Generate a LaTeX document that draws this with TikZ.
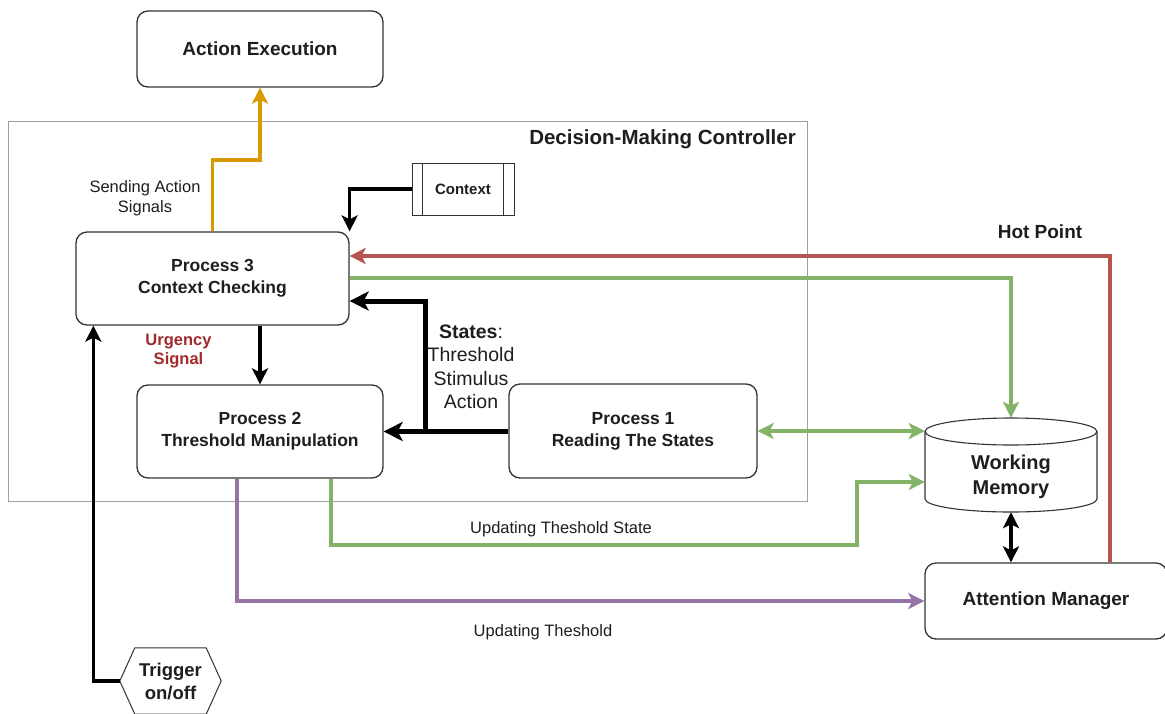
\documentclass[tikz,border=0pt]{standalone}
\usepackage{fontspec}
\setmainfont{Liberation Sans}
\usetikzlibrary{arrows.meta,calc}

\definecolor{lineorange}{HTML}{D79B00}
\definecolor{linered}{HTML}{B85450}
\definecolor{linegreen}{HTML}{82B366}
\definecolor{linepurple}{HTML}{9673A6}
\definecolor{urgency}{HTML}{A02A2C}
\definecolor{ink}{HTML}{1E1E1E}
\definecolor{frame}{HTML}{333333}

\newcommand\setfs[2]{\fontsize{#1}{#2}\selectfont}

\tikzset{
  tip/.style={-{Stealth[length=16pt,width=16pt,inset=4pt]}},
  bitip/.style={{Stealth[length=16pt,width=16pt,inset=4pt]}-{Stealth[length=16pt,width=16pt,inset=4pt]}},
  bigtip/.style={-{Stealth[length=19pt,width=19pt,inset=5pt]}},
  procbox/.style={draw=frame, line width=1.3pt, rounded corners=11pt, fill=white,
    inner sep=0pt, align=center, text=ink, font=\bfseries\setfs{17.5}{22}},
  flow/.style={line width=3.6pt},
  thinlabel/.style={inner sep=0pt, align=center, text=ink},
}

\begin{document}
\begin{tikzpicture}[x=1pt,y=-1pt]
\useasboundingbox (0,0) rectangle (1165,713);
\clip (0,0) rectangle (1165,713);
\fill[white] (0,0) rectangle (1165,713);

% controller frame
\draw[gray!75, line width=0.9pt] (8,121.5) rectangle (807,501);
\node[anchor=east, inner sep=0pt, text=ink, font=\bfseries\setfs{20.5}{24}] (dmc) at (796,139) {Decision-Making Controller};

% boxes
\node[procbox, minimum width=246pt, minimum height=76pt, font=\bfseries\setfs{19}{23}] (ae) at (260,49) {Action Execution};
\node[procbox, minimum width=273pt, minimum height=93pt] (p3) at (212.5,278.5) {Process 3\\Context Checking};
\node[procbox, minimum width=246pt, minimum height=93pt] (p2) at (260,431.5) {Process 2\\Threshold Manipulation};
\node[procbox, minimum width=248pt, minimum height=94pt] (p1) at (633,431) {Process 1\\Reading The States};
\node[procbox, minimum width=242pt, minimum height=76pt, font=\bfseries\setfs{19}{23}] (am) at (1046,601) {Attention Manager};

% context (predefined process)
\node[draw=frame, line width=1pt, fill=white, minimum width=102pt, minimum height=52pt,
  inner sep=0pt, text=ink, font=\bfseries\setfs{15}{18}] (ctx) at (463,189) {Context};
\draw[frame, line width=0.8pt] ([xshift=11pt]ctx.north west) -- ([xshift=11pt]ctx.south west);
\draw[frame, line width=0.8pt] ([xshift=-11pt]ctx.north east) -- ([xshift=-11pt]ctx.south east);

% working memory (cylinder)
\node[minimum width=172pt, minimum height=94pt, inner sep=0pt] (wm) at (1011,465) {};
\draw[frame, line width=1.1pt, fill=white]
  (925,431.5) -- (925,499) arc[start angle=180, end angle=0, x radius=86, y radius=13]
  -- (1097,431.5);
\draw[frame, line width=1.1pt, fill=white] (1011,431.5) ellipse [x radius=86, y radius=13.5];
\node[thinlabel, font=\bfseries\setfs{20}{25}] (wmtext) at (1011,477) {Working\\Memory};

% trigger (hexagon)
\node[minimum width=101pt, minimum height=66pt, inner sep=0pt, align=center, text=ink,
  font=\bfseries\setfs{18.5}{23}] (trig) at (170.5,681) {Trigger\\on/off};
\draw[frame, line width=1pt]
  (trig.west) -- ([xshift=15pt]trig.north west) -- ([xshift=-15pt]trig.north east)
  -- (trig.east) -- ([xshift=-15pt]trig.south east) -- ([xshift=15pt]trig.south west) -- cycle;

% connectors
\draw[flow, lineorange, tip] (p3.north) -- (p3.north |- 0,160) -| (ae.south);
\draw[flow, black, tip] (ctx.west) -| (p3.north east);
\coordinate (hp) at (1110,256);
\draw[flow, linered, tip] (am.north -| hp) -- (hp) -- (p3.east |- hp);
\draw[flow, linegreen, tip] (p3.east |- 0,278) -| (wm.north);
\coordinate (br) at (425,431.5);
\draw[line width=5pt, black, bigtip] (p1.west |- br) -- (p2.east);
\draw[line width=5pt, black, bigtip] (br) |- (p3.east |- 0,301);
\draw[flow, black, tip] (p2.north |- p3.south) -- (p2.north);
\draw[flow, linegreen, bitip] (p1.east) -- (wm.west |- p1.east);
\draw[flow, linegreen, tip] ([xshift=71pt]p2.south) |- (857,545) |- (wm.west |- 0,482);
\draw[flow, linepurple, tip] ([xshift=-23pt]p2.south) |- (am.west);
\draw[flow, black, bitip] (wm.south) -- (wm.south |- am.north);
\draw[flow, black, tip] (trig.west) -| ([xshift=18pt]p3.south west);

% labels
\node[thinlabel, font=\setfs{16.5}{20}] (lsend) at (145,198.5) {Sending Action\\Signals};
\node[thinlabel, font=\bfseries\setfs{19}{23}] (lhot) at (1040,232) {Hot Point};
\node[thinlabel, font=\setfs{19.5}{23.5}] (lstates) at (471,367) {\textbf{States}:\\Threshold\\Stimulus\\Action};
\node[thinlabel, text=urgency, font=\bfseries\setfs{16.5}{19}] (lurg) at (178.5,351) {Urgency\\Signal};
\node[thinlabel, font=\setfs{16.5}{20}] (lupd1) at (561,529) {Updating Theshold State};
\node[thinlabel, font=\setfs{16.5}{20}] (lupd2) at (543,632) {Updating Theshold};
\end{tikzpicture}
\end{document}
